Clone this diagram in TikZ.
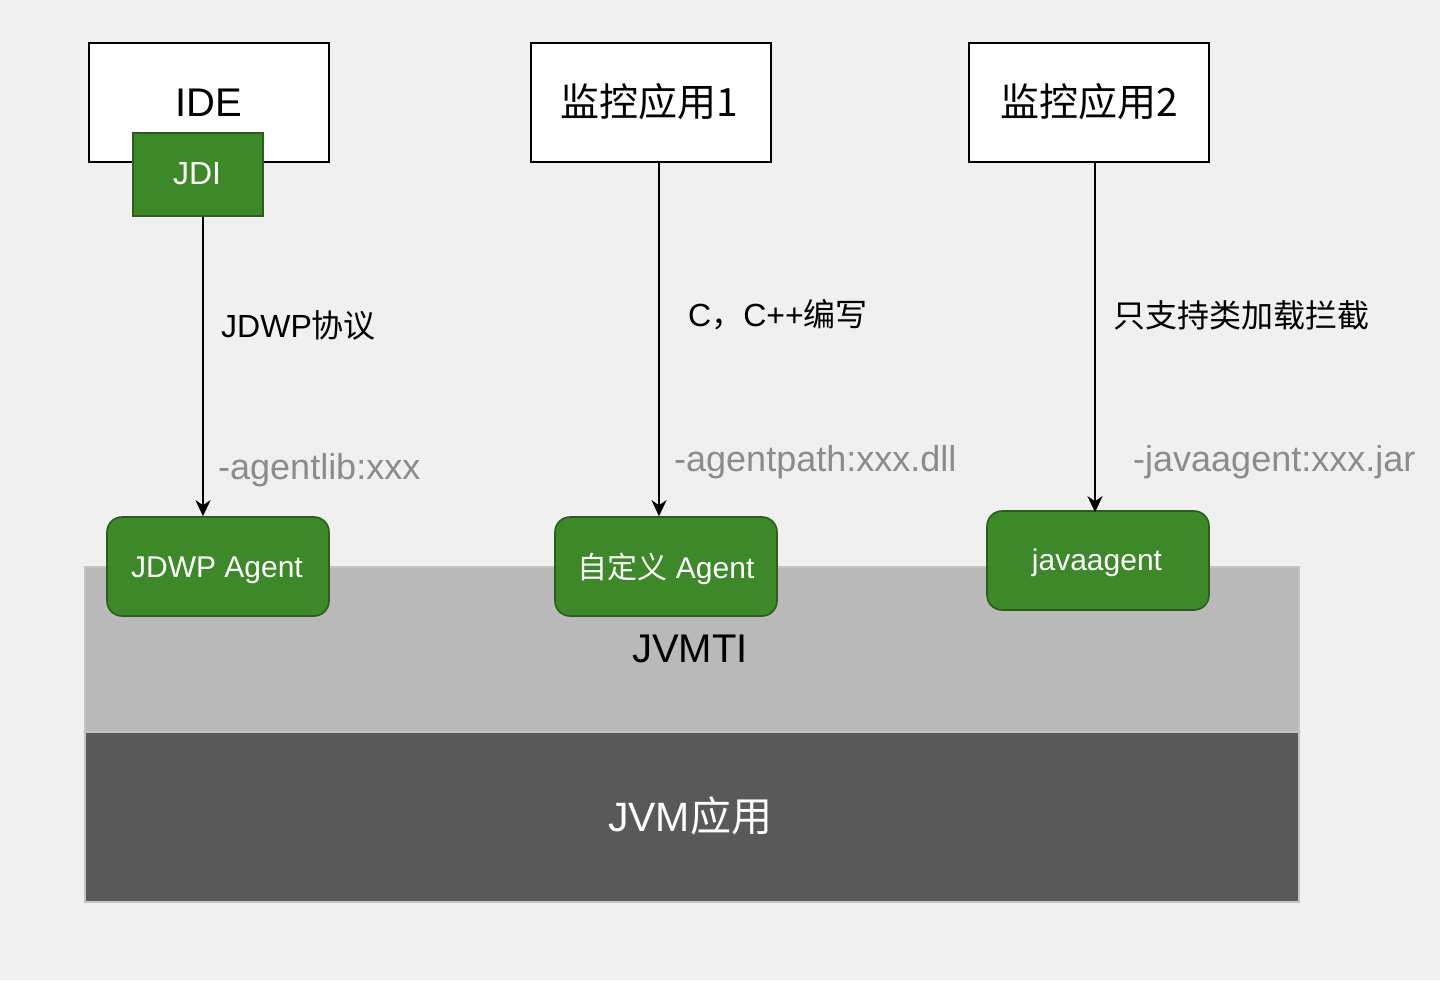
\documentclass[tikz,border=0pt]{standalone}
\usepackage{fontspec}
\setmainfont{Liberation Sans}
\newfontfamily\cjk{Noto Sans CJK SC}
\usetikzlibrary{arrows.meta}
\definecolor{bgc}{HTML}{F0F0F0}
\definecolor{greenfill}{HTML}{3D8829}
\definecolor{greenline}{HTML}{2A5E1C}
\definecolor{bandlight}{HTML}{B9B9B9}
\definecolor{banddark}{HTML}{595959}
\definecolor{bandline}{HTML}{C4C4C4}
\definecolor{graytext}{HTML}{8C8C8C}
\tikzset{
  x=1pt, y=-1pt,
  appbox/.style={draw=black, line width=2pt, fill=white, minimum width=240pt, minimum height=119pt, inner sep=0pt},
  greenbox/.style={draw=greenline, line width=1.6pt, fill=greenfill, inner sep=0pt},
  agentbox/.style={greenbox, rounded corners=15pt, minimum width=222pt, minimum height=99pt},
  agenttext/.style={text=white, font=\fontsize{30}{36}\selectfont, inner sep=0pt},
  band/.style={draw=bandline, line width=2pt, inner sep=0pt},
  conn/.style={line width=2.2pt, -{Stealth[length=16pt,width=15pt,inset=5pt]}},
  lbl/.style={font=\fontsize{32}{38}\selectfont, anchor=west, inner sep=0pt},
  glbl/.style={font=\fontsize{36}{42}\selectfont, text=graytext, anchor=west, inner sep=0pt},
}
\begin{document}
\begin{tikzpicture}
\fill[bgc] (0,0) rectangle (1440,980);
\useasboundingbox (0,0) rectangle (1440,980);
% bands
\node[band, fill=bandlight, minimum width=1214pt, minimum height=165pt] (jvmti) at (692,649.5) {};
\node[band, fill=banddark, minimum width=1214pt, minimum height=170pt] (jvm) at (692,817) {};
\node[font=\fontsize{41}{48}\selectfont, text=white] (jvmtxt) at (690,816) {JVM{\cjk 应用}};
\node[font=\fontsize{40}{48}\selectfont] (jvmtitxt) at (690,649) {JVMTI};
% top boxes
\node[appbox] (ide) at (209,102.5) {};
\node[font=\fontsize{40}{48}\selectfont] (idetxt) at (209,103) {IDE};
\node[greenbox, minimum width=130pt, minimum height=83pt] (jdi) at (198,174.5) {};
\node[text=white, font=\fontsize{32}{38}\selectfont] (jditxt) at (197,174) {JDI};
\node[appbox] (mon1) at (651,102.5) {};
\node[font=\cjk\fontsize{39}{46}\selectfont] (mon1txt) at (649,102) {监控应用1};
\node[appbox] (mon2) at (1089,102.5) {};
\node[font=\cjk\fontsize{39}{46}\selectfont] (mon2txt) at (1089,102) {监控应用2};
% agents
\node[agentbox] (jdwp) at (218,566.5) {};
\node[agenttext] (jdwptxt) at (217,570) {JDWP Agent};
\node[agentbox] (custom) at (666,566.5) {};
\node[agenttext] (customtxt) at (666,569) {{\cjk 自定义} Agent};
\node[agentbox] (jagent) at (1098,560.5) {};
\node[agenttext] (jagenttxt) at (1097,563) {javaagent};
% connectors
\draw[conn] (jdi.south -| 203,0) -- (jdwp.north -| 203,0);
\draw[conn] (mon1.south -| 659,0) -- (custom.north -| 659,0);
\draw[conn] (mon2.south -| 1095,0) -- ([yshift=-2pt]jagent.north -| 1095,0);
% labels
\node[lbl] (l1) at (221,325) {JDWP{\cjk 协议}};
\node[lbl] (l2) at (688,315) {C{\cjk ，}C++{\cjk 编写}};
\node[lbl, font=\cjk\fontsize{32}{38}\selectfont] (l3) at (1113,315) {只支持类加载拦截};
\node[glbl] (g1) at (218,470) {-agentlib:xxx};
\node[glbl] (g2) at (674,462) {-agentpath:xxx.dll};
\node[glbl] (g3) at (1133,462) {-javaagent:xxx.jar};
\end{tikzpicture}
\end{document}
